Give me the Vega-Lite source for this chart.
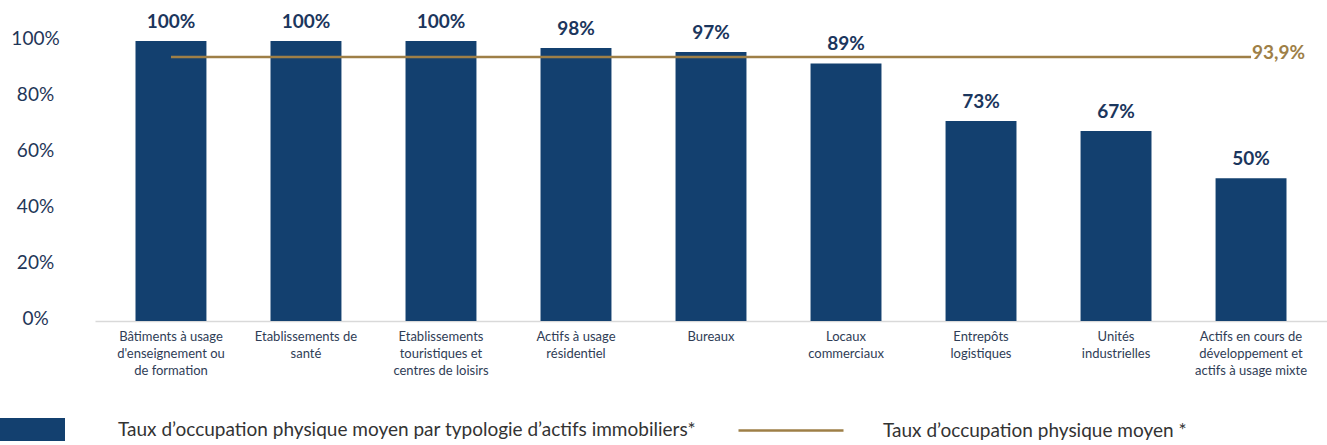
{
  "$schema": "https://vega.github.io/schema/vega-lite/v6.json",
  "width": 1232,
  "height": 280,
  "autosize": {"type": "none"},
  "padding": {"left": 95, "top": 41, "right": 0, "bottom": 124},
  "background": "white",
  "config": {
    "view": {"stroke": null},
    "font": "Lato",
    "axis": {"grid": false}
  },
  "datasets": {
    "bars": [
      {"cat": "Bâtiments à usage|d'enseignement ou|de formation", "height": 100, "label": "100%"},
      {"cat": "Etablissements de|santé", "height": 100, "label": "100%"},
      {"cat": "Etablissements|touristiques et|centres de loisirs", "height": 100, "label": "100%"},
      {"cat": "Actifs à usage|résidentiel", "height": 97.5, "label": "98%"},
      {"cat": "Bureaux", "height": 96.1, "label": "97%"},
      {"cat": "Locaux|commerciaux", "height": 92.0, "label": "89%"},
      {"cat": "Entrepôts|logistiques", "height": 71.4, "label": "73%"},
      {"cat": "Unités|industrielles", "height": 67.9, "label": "67%"},
      {"cat": "Actifs en cours de|développement et|actifs à usage mixte", "height": 51.0, "label": "50%"}
    ],
    "avg": [
      {"from": "Bâtiments à usage|d'enseignement ou|de formation", "to": "Actifs en cours de|développement et|actifs à usage mixte", "value": 94.3, "label": "93,9%", "series": "Taux d’occupation physique moyen *"}
    ]
  },
  "layer": [
    {
      "data": {"name": "bars"},
      "mark": {"type": "bar"},
      "encoding": {
        "x": {
          "field": "cat", "type": "nominal", "sort": null,
          "scale": {"paddingInner": 0.4746, "paddingOuter": 0.3},
          "axis": {
            "title": null, "labelAngle": 0, "ticks": false,
            "domainColor": "#d9d9d9", "domainWidth": 1.5,
            "labelExpr": "split(datum.label, '|')",
            "labelFont": "Lato", "labelFontSize": 13, "labelColor": "#2f3d56",
            "labelLineHeight": 17, "labelBaseline": "top", "labelPadding": 9,
            "labelAlign": "center", "labelLimit": 0
          }
        },
        "y": {
          "field": "height", "type": "quantitative",
          "scale": {"domain": [0, 100], "nice": false, "zero": true},
          "axis": {
            "title": null, "labelExpr": "datum.value + '%'",
            "values": [0, 20, 40, 60, 80, 100],
            "domain": false, "ticks": false,
            "labelFont": "Lato", "labelFontSize": 19, "labelColor": "#1f3658",
            "labelAlign": "center", "labelPadding": 60, "labelOffset": -3
          }
        },
        "fill": {
          "datum": "Taux d’occupation physique moyen par typologie d’actifs immobiliers*",
          "type": "nominal",
          "scale": {"range": ["#13406f"]},
          "legend": {
            "title": null, "orient": "none", "legendX": -95, "legendY": 356,
            "padding": 0,
            "symbolType": "M-1,-0.354H1V0.354H-1Z", "symbolSize": 4225,
            "symbolStrokeWidth": 0, "symbolOpacity": 1,
            "labelFont": "Lato", "labelFontSize": 19, "labelColor": "#333333",
            "labelOffset": 53, "labelLimit": 0
          }
        }
      }
    },
    {
      "data": {"name": "bars"},
      "mark": {"type": "text", "baseline": "middle", "align": "center", "dy": -19, "font": "Lato", "fontWeight": "bold", "fontSize": 19, "color": "#1b365d"},
      "encoding": {
        "x": {"field": "cat", "type": "nominal", "sort": null},
        "y": {"field": "height", "type": "quantitative"},
        "text": {"field": "label"}
      }
    },
    {
      "data": {"name": "avg"},
      "mark": {"type": "rule", "strokeWidth": 2.5},
      "encoding": {
        "x": {"field": "from", "type": "nominal", "sort": null},
        "x2": {"field": "to"},
        "y": {"field": "value", "type": "quantitative"},
        "stroke": {
          "field": "series", "type": "nominal",
          "scale": {"range": ["#9e7f47"]},
          "legend": {
            "title": null, "orient": "none", "legendX": 642, "legendY": 335.5,
            "padding": 0,
            "symbolType": "stroke", "symbolSize": 11025, "symbolStrokeWidth": 2.5,
            "labelFont": "Lato", "labelFontSize": 19, "labelColor": "#333333",
            "labelOffset": 38, "labelLimit": 0
          }
        }
      }
    },
    {
      "data": {"name": "avg"},
      "mark": {"type": "text", "align": "left", "baseline": "middle", "dx": 1, "dy": -4, "font": "Lato", "fontWeight": "bold", "fontSize": 19, "color": "#9e7f47"},
      "encoding": {
        "x": {"field": "to", "type": "nominal", "sort": null},
        "y": {"field": "value", "type": "quantitative"},
        "text": {"field": "label"}
      }
    }
  ]
}
